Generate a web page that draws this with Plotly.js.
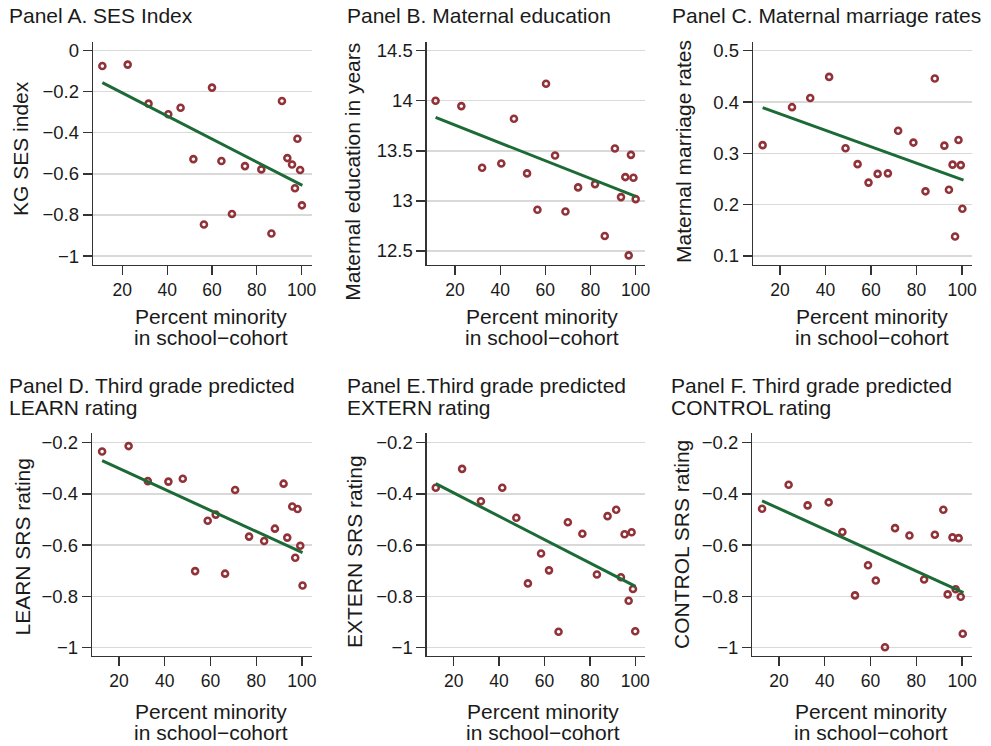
<!DOCTYPE html>
<html><head><meta charset="utf-8">
<script src="https://cdn.plot.ly/plotly-3.0.1.min.js"></script>
<style>html,body{margin:0;padding:0;background:#fff}#chart{width:991px;height:746px}</style>
</head><body><div id="chart"></div><script>
// ---- data ----
const xTicks = [20, 40, 60, 80, 100];
const xTickText = ["20", "40", "60", "80", "100"];

const titleA = "Panel A. SES Index";
const xA = [11.1, 22.4, 31.7, 40.5, 46.0, 51.7, 56.4, 60.0, 64.2, 68.9, 74.7, 82.0, 86.5, 91.2, 93.6, 95.7, 97.0, 98.1, 99.3, 100.1];
const yA = [-0.075, -0.068, -0.258, -0.31, -0.278, -0.528, -0.846, -0.18, -0.537, -0.795, -0.562, -0.578, -0.89, -0.245, -0.523, -0.554, -0.67, -0.429, -0.581, -0.753];
const fitAx = [11.1, 100.3], fitAy = [-0.156, -0.656];
const yTicksA = [0, -0.2, -0.4, -0.6, -0.8, -1];

const titleB = "Panel B. Maternal education";
const xB = [11.4, 22.8, 32.0, 40.5, 46.1, 51.9, 56.5, 60.3, 64.3, 68.9, 74.5, 82.0, 86.3, 90.8, 93.5, 95.4, 96.9, 97.9, 99.0, 100.0];
const yB = [14.0, 13.947, 13.331, 13.374, 13.82, 13.275, 12.912, 14.17, 13.454, 12.895, 13.135, 13.168, 12.649, 13.524, 13.038, 13.238, 12.456, 13.46, 13.231, 13.018];
const fitBx = [11.4, 100.0], fitBy = [13.834, 13.045];
const yTicksB = [12.5, 13, 13.5, 14, 14.5];

const titleC = "Panel C. Maternal marriage rates";
const xC = [12.4, 25.3, 33.3, 41.6, 48.8, 54.1, 58.9, 62.9, 67.4, 71.9, 78.6, 83.9, 88.0, 92.2, 94.2, 95.8, 96.9, 98.4, 99.4, 100.1];
const yC = [0.316, 0.390, 0.408, 0.449, 0.310, 0.279, 0.243, 0.260, 0.261, 0.344, 0.321, 0.226, 0.446, 0.315, 0.229, 0.278, 0.138, 0.326, 0.277, 0.192];
const fitCx = [12.4, 100.6], fitCy = [0.389, 0.248];
const yTicksC = [0.1, 0.2, 0.3, 0.4, 0.5];

const titleD = ["Panel D. Third grade predicted", "LEARN rating"];
const xD = [12.6, 24.2, 32.6, 41.6, 47.9, 53.3, 58.8, 62.3, 66.4, 70.8, 76.9, 83.5, 88.2, 92.0, 93.6, 95.8, 97.1, 98.1, 99.3, 100.3];
const yD = [-0.234, -0.213, -0.350, -0.352, -0.341, -0.702, -0.505, -0.481, -0.712, -0.385, -0.567, -0.584, -0.536, -0.360, -0.571, -0.449, -0.650, -0.459, -0.603, -0.758];
const fitDx = [12.6, 100.3], fitDy = [-0.270, -0.630];

const titleE = ["Panel E.Third grade predicted", "EXTERN rating"];
const xE = [12.1, 23.7, 32.0, 41.4, 47.6, 52.7, 58.5, 62.0, 66.2, 70.3, 76.7, 83.1, 87.8, 91.6, 93.7, 95.3, 97.1, 98.4, 99.0, 100.0];
const yE = [-0.376, -0.302, -0.429, -0.376, -0.493, -0.750, -0.633, -0.699, -0.939, -0.511, -0.556, -0.715, -0.487, -0.462, -0.726, -0.558, -0.818, -0.550, -0.772, -0.937];
const fitEx = [12.1, 100.1], fitEy = [-0.360, -0.762];

const titleF = ["Panel F. Third grade predicted", "CONTROL rating"];
const xF = [12.6, 24.2, 32.5, 41.7, 47.7, 53.2, 58.9, 62.3, 66.3, 70.7, 77.0, 83.4, 88.1, 91.8, 93.7, 95.8, 97.2, 98.5, 99.4, 100.3];
const yF = [-0.458, -0.364, -0.445, -0.433, -0.549, -0.797, -0.679, -0.739, -1.0, -0.534, -0.563, -0.735, -0.560, -0.462, -0.793, -0.570, -0.773, -0.573, -0.802, -0.947];
const fitFx = [12.6, 100.6], fitFy = [-0.427, -0.786];
const yTicksSRS = [-1, -0.8, -0.6, -0.4, -0.2];

const xTitle = ["Percent minority", "in school\u2212cohort"];
const yTitles = ["KG SES index", "Maternal education in years", "Maternal marriage rates",
                 "LEARN SRS rating", "EXTERN SRS rating", "CONTROL SRS rating"];

// ---- layout ----
const W = 991, H = 746;
const px = v => v / W, py = v => 1 - v / H;
const FONT = "Liberation Sans, Arial, Helvetica, sans-serif";
const TXT = "#1a1a1a";
const MARK = "#913239", LINE = "#1c6a35";

const panels = [
  {x: xA, y: yA, fx: fitAx, fy: fitAy, yt: yTicksA, dom: [93, 312], row: 0, xr: [6.93, 104.6], yr: [-1.041, 0.042]},
  {x: xB, y: yB, fx: fitBx, fy: fitBy, yt: yTicksB, dom: [426.7, 645], row: 0, xr: [7.47, 104.12], yr: [12.365, 14.587]},
  {x: xC, y: yC, fx: fitCx, fy: fitCy, yt: yTicksC, dom: [753, 971.7], row: 0, xr: [8.17, 104.2], yr: [0.0834, 0.517]},
  {x: xD, y: yD, fx: fitDx, fy: fitDy, yt: yTicksSRS, dom: [92, 311.7], row: 1, xr: [8.18, 104.3], yr: [-1.034, -0.163]},
  {x: xE, y: yE, fx: fitEx, fy: fitEy, yt: yTicksSRS, dom: [426.7, 645], row: 1, xr: [8.1, 104.3], yr: [-1.034, -0.163]},
  {x: xF, y: yF, fx: fitFx, fy: fitFy, yt: yTicksSRS, dom: [752.3, 971.7], row: 1, xr: [8.33, 104.2], yr: [-1.034, -0.163]}
];
const rowDom = [[42, 264.5], [433.3, 656]];

const traces = [];
const layout = {
  width: W, height: H, margin: {l: 0, r: 0, t: 0, b: 0},
  paper_bgcolor: "#fff", plot_bgcolor: "#fff", showlegend: false,
  font: {family: FONT, color: TXT, size: 17},
  annotations: []
};

const fmt = v => (v < 0 ? "\u2212" : "") + String(Math.abs(v));

panels.forEach((p, i) => {
  const n = i + 1;
  const xa = n === 1 ? "x" : "x" + n, ya = n === 1 ? "y" : "y" + n;
  traces.push({type: "scatter", mode: "markers", x: p.x, y: p.y, xaxis: xa, yaxis: ya,
    marker: {symbol: "circle-open", size: 6, color: MARK, line: {width: 2.6, color: MARK}},
    hoverinfo: "x+y", cliponaxis: false});
  traces.push({type: "scatter", mode: "lines", x: p.fx, y: p.fy, xaxis: xa, yaxis: ya,
    line: {color: LINE, width: 3}, hoverinfo: "skip"});
  const common = {showline: true, linecolor: "#333", linewidth: 1.3, ticks: "outside", ticklen: 9,
    tickcolor: "#333", tickwidth: 1.3, zeroline: false, fixedrange: true};
  const rd = rowDom[p.row];
  layout["xaxis" + (n === 1 ? "" : n)] = Object.assign({}, common, {
    domain: [px(p.dom[0]), px(p.dom[1])], range: p.xr, anchor: ya,
    tickfont: {family: FONT, size: 17.5, color: TXT},
    tickvals: xTicks, ticktext: xTickText, showgrid: false});
  layout["yaxis" + (n === 1 ? "" : n)] = Object.assign({}, common, {
    domain: [py(rd[1]), py(rd[0])], range: p.yr, anchor: xa,
    tickfont: {family: FONT, size: 18.5, color: TXT},
    tickvals: p.yt, ticktext: p.yt.map(fmt), showgrid: true, gridcolor: "#d9d9d9", gridwidth: 1.3});
});

function ann(text, x, y, xanchor, extra) {
  layout.annotations.push(Object.assign({text: text, x: px(x), y: py(y), xref: "paper", yref: "paper",
    xanchor: xanchor, yanchor: "middle", showarrow: false, font: {family: FONT, size: 21, color: TXT}}, extra || {}));
}
// panel titles
ann(titleA, 7, 15, "left");
ann(titleB, 345, 15, "left");
ann(titleC, 670, 15, "left");
ann(titleD[0], 7, 385, "left"); ann(titleD[1], 7, 407.5, "left");
ann(titleE[0], 345, 385, "left"); ann(titleE[1], 345, 407.5, "left");
ann(titleF[0], 669, 385, "left"); ann(titleF[1], 669, 407.5, "left");
// x axis titles
[211, 542, 871.5].forEach(cx => { ann(xTitle[0], cx, 316.3, "center"); ann(xTitle[1], cx, 337.5, "center"); });
[211, 542.5, 871].forEach(cx => { ann(xTitle[0], cx, 711, "center"); ann(xTitle[1], cx, 732, "center"); });
// y axis titles
const yPos = [[20, 149], [353, 171.7], [683, 152], [22, 547.5], [354, 552], [681, 545]];
yTitles.forEach((t, i) => ann(t, yPos[i][0], yPos[i][1], "center", {textangle: -90}));

Plotly.newPlot("chart", traces, layout, {staticPlot: true, displayModeBar: false});
</script></body></html>
